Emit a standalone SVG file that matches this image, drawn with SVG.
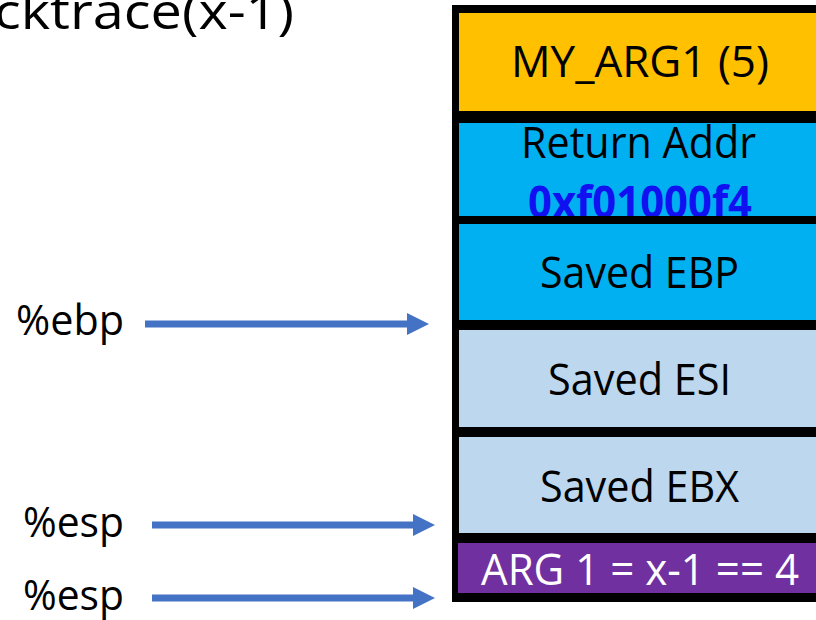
<svg xmlns="http://www.w3.org/2000/svg" width="816" height="620" viewBox="0 0 816 620">
  <defs>
    <style>
      .lbl { font-family: "Open Sans", "Noto Sans", "Liberation Sans", sans-serif; font-size: 44px; fill: #000; }
      .reg { font-size: 42px; }
      .head { font-size: 50px; }
      .addr { font-weight: bold; fill: #1010F0; }
      .white { fill: #fff; }
      .arrow { stroke: #4472C4; stroke-width: 7; fill: none; }
    </style>
    <marker id="head" markerWidth="22" markerHeight="22" refX="0" refY="11" orient="auto" markerUnits="userSpaceOnUse">
      <path d="M0,0 L22,11 L0,22 Z" fill="#4472C4"/>
    </marker>
  </defs>

  <rect width="816" height="620" fill="#fff"/>

  <!-- partially scrolled heading -->
  <text class="lbl head" x="-6" y="29" textLength="300" lengthAdjust="spacingAndGlyphs">cktrace(x-1)</text>

  <!-- stack frame outline -->
  <rect x="452" y="5" width="380" height="597" fill="#000"/>

  <g id="my-arg1">
    <rect x="459" y="13" width="370" height="98" fill="#FFC000"/>
    <text class="lbl" x="511" y="77" textLength="258" lengthAdjust="spacingAndGlyphs">MY_ARG1 (5)</text>
  </g>
  <g id="return-addr">
    <rect x="459" y="123" width="370" height="93" fill="#00B0F0"/>
    <text class="lbl" x="521" y="158" textLength="235" lengthAdjust="spacingAndGlyphs">Return Addr</text>
    <text class="lbl addr" x="528" y="218" textLength="224" lengthAdjust="spacingAndGlyphs">0xf01000f4</text>
  </g>
  <g id="saved-ebp">
    <rect x="459" y="224" width="370" height="96" fill="#00B0F0"/>
    <text class="lbl" x="540" y="288" textLength="199" lengthAdjust="spacingAndGlyphs">Saved EBP</text>
  </g>
  <g id="saved-esi">
    <rect x="459" y="330" width="370" height="97" fill="#BDD7EE"/>
    <text class="lbl" x="548" y="395" textLength="183" lengthAdjust="spacingAndGlyphs">Saved ESI</text>
  </g>
  <g id="saved-ebx">
    <rect x="459" y="437" width="370" height="96" fill="#BDD7EE"/>
    <text class="lbl" x="540" y="502" textLength="199" lengthAdjust="spacingAndGlyphs">Saved EBX</text>
  </g>
  <g id="arg1">
    <rect x="458" y="543" width="370" height="50" fill="#7030A0"/>
    <text class="lbl white" x="481" y="585" textLength="318" lengthAdjust="spacingAndGlyphs">ARG 1 = x-1 == 4</text>
  </g>

  <!-- separator between return address and saved ebp drawn over the address text -->
  <rect x="452" y="216" width="380" height="8" fill="#000"/>

  <g id="ebp-label">
    <text class="lbl reg" x="16" y="335" textLength="108" lengthAdjust="spacingAndGlyphs">%ebp</text>
  </g>
  <g id="esp-label-1">
    <text class="lbl reg" x="23" y="537" textLength="101" lengthAdjust="spacingAndGlyphs">%esp</text>
  </g>
  <g id="esp-label-2">
    <text class="lbl reg" x="23" y="610" textLength="101" lengthAdjust="spacingAndGlyphs">%esp</text>
  </g>

  <g id="connectors">
    <line class="arrow" x1="145" y1="324" x2="407" y2="324" marker-end="url(#head)"/>
    <line class="arrow" x1="152" y1="525" x2="413" y2="525" marker-end="url(#head)"/>
    <line class="arrow" x1="152" y1="598" x2="413" y2="598" marker-end="url(#head)"/>
  </g>
</svg>
